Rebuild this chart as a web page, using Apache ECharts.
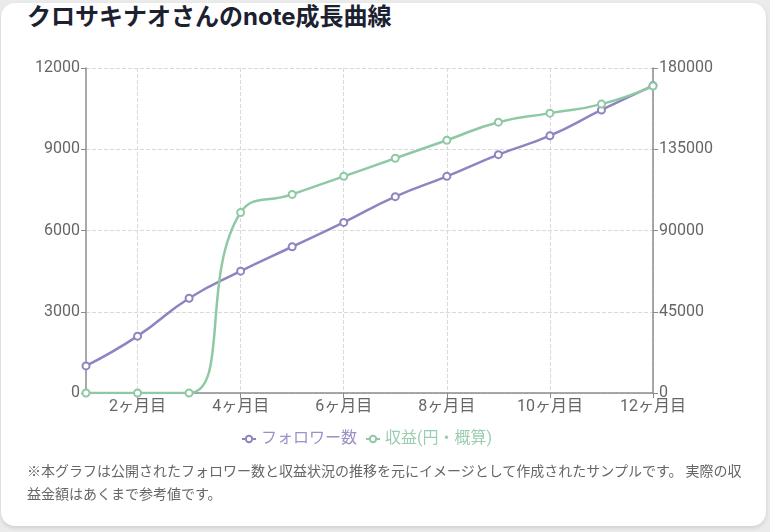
<!DOCTYPE html>
<html>
<head>
<meta charset="utf-8">
<script src="https://cdn.jsdelivr.net/npm/echarts@6/dist/echarts.min.js"></script>
<style>
  html, body { margin: 0; padding: 0; background: #ebebeb; width: 770px; height: 532px; overflow: hidden; }
  .card {
    position: absolute; left: 1px; top: 3px; width: 765px; height: 523px;
    background: #fff; border-radius: 14px; box-shadow: 0 2px 4px rgba(0,0,0,0.12);
  }
  h1 {
    position: absolute; left: 27px; top: -1px; margin: 0;
    font-family: Inter, "Noto Sans CJK JP", sans-serif; font-size: 24px; font-weight: 700;
    color: #1c2130; line-height: 36px;
  }
  .note {
    position: absolute; left: 27px; top: 459px; width: 726px; margin: 0;
    font-family: "Noto Sans CJK JP", sans-serif; font-size: 14px; color: #666; line-height: 23px;
  }
  #main { position: absolute; left: 0; top: 0; width: 770px; height: 532px; }
</style>
</head>
<body>
<div class="card"></div>
<h1>クロサキナオさんのnote成長曲線</h1>
<div id="main"></div>
<p class="note">※本グラフは公開されたフォロワー数と収益状況の推移を元にイメージとして作成されたサンプルです。 実際の収益金額はあくまで参考値です。</p>
<script>
// 月（カテゴリ）
var months = ["1ヶ月目", "2ヶ月目", "3ヶ月目", "4ヶ月目", "5ヶ月目", "6ヶ月目",
              "7ヶ月目", "8ヶ月目", "9ヶ月目", "10ヶ月目", "11ヶ月目", "12ヶ月目"];
// フォロワー数
var followers = [1000, 2100, 3500, 4500, 5400, 6300, 7250, 8000, 8800, 9500, 10450, 11350];
// 収益（円・概算）
var income = [0, 0, 0, 100000, 110000, 120000, 130000, 140000, 150000, 155000, 160000, 170000];

var purple = "#8f84c2";
var green = "#8fc9a4";
var font = "Roboto, 'Noto Sans CJK JP', sans-serif";

function everyOther(index) {
    return index % 2 === 1;
}
function plain(v) {
    return String(v);
}

var myChart = echarts.init(document.getElementById("main"));
var option = {
    animation: false,
    textStyle: { fontFamily: font },
    grid: { left: 86, right: 117, top: 68, bottom: 139, containLabel: false },
    legend: {
        left: 236, top: 426,
        itemWidth: 14, itemHeight: 8, itemGap: 8,
        textStyle: { fontSize: 16, fontFamily: font },
        data: [
            { name: "フォロワー数", textStyle: { color: "#9a92c4" } },
            { name: "収益(円・概算)", textStyle: { color: "#9ccdb0" } }
        ]
    },
    xAxis: {
        type: "category",
        boundaryGap: false,
        data: months,
        axisLine: { lineStyle: { color: "#8c8c8c", width: 1.5 } },
        axisTick: { show: true, interval: everyOther, lineStyle: { color: "#8c8c8c" } },
        axisLabel: { interval: everyOther, color: "#666", fontSize: 16, margin: 6 },
        splitLine: { show: true, interval: everyOther, lineStyle: { color: "#d9d9d9", type: "dashed" } }
    },
    yAxis: [
        {
            type: "value", min: 0, max: 12000, interval: 3000,
            axisLine: { show: true, lineStyle: { color: "#8c8c8c", width: 1.5 } },
            axisTick: { show: true, lineStyle: { color: "#8c8c8c" } },
            axisLabel: { color: "#666", fontSize: 16, margin: 6, formatter: plain },
            splitLine: { lineStyle: { color: "#d9d9d9", type: "dashed" } }
        },
        {
            type: "value", min: 0, max: 180000, interval: 45000,
            axisLine: { show: true, lineStyle: { color: "#8c8c8c", width: 1.5 } },
            axisTick: { show: true, lineStyle: { color: "#8c8c8c" } },
            axisLabel: { color: "#666", fontSize: 16, margin: 6, formatter: plain },
            splitLine: { show: false }
        }
    ],
    series: [
        {
            name: "フォロワー数", type: "line", yAxisIndex: 0, data: followers,
            smooth: true, symbol: "emptyCircle", symbolSize: 7,
            itemStyle: { color: purple, borderWidth: 2 },
            lineStyle: { color: purple, width: 2.5 }
        },
        {
            name: "収益(円・概算)", type: "line", yAxisIndex: 1, data: income,
            smooth: true, symbol: "emptyCircle", symbolSize: 7,
            itemStyle: { color: green, borderWidth: 2 },
            lineStyle: { color: green, width: 2.5 }
        }
    ]
};
myChart.setOption(option);
</script>
</body>
</html>
